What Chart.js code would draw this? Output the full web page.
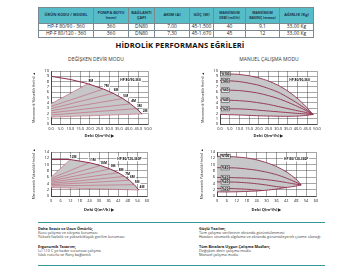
<!DOCTYPE html>
<html><head><meta charset="utf-8">
<script src="https://cdn.jsdelivr.net/npm/chart.js"></script>
<style>
html,body{margin:0;padding:0;background:#fff;}
body{width:360px;height:272px;position:relative;overflow:hidden;font-family:"Open Sans","Noto Sans",sans-serif;color:#222;}
table{position:absolute;left:38px;top:7px;width:275px;border-collapse:collapse;table-layout:fixed;}
th,td{border:0.6px solid #7a8a90;padding:0;text-align:center;overflow:hidden;white-space:nowrap;}
th{background:#56bcc8;color:#1c3550;font-weight:bold;font-size:4px;line-height:4.6px;height:15px;}
th.small{font-size:3.5px;}
td{font-size:4.9px;height:5.8px;line-height:5.6px;color:#222;}
#title{position:absolute;left:0;width:360px;top:40px;text-align:center;font-weight:bold;font-size:7.6px;letter-spacing:0.1px;color:#111;}
.sub{position:absolute;top:55.5px;font-size:5px;color:#333;text-align:center;width:160px;}
canvas{position:absolute;}
.hr{position:absolute;left:38px;width:287px;height:1px;background:#3a9599;}
.txt{position:absolute;font-size:3.8px;line-height:4px;color:#3a3a3a;white-space:nowrap;}
.txt b{color:#222;}
</style></head><body>
<table id="tbl"></table>
<div id="title">HİDROLİK PERFORMANS EĞRİLERİ</div>
<div class="sub" style="left:16px;">DEĞİŞKEN DEVİR MODU</div>
<div class="sub" style="left:189px;">MANUEL ÇALIŞMA MODU</div>
<canvas id="c1" width="129" height="73" style="left:31px;top:66px;width:129px;height:73px;"></canvas>
<canvas id="c2" width="128" height="73" style="left:200px;top:66px;width:128px;height:73px;"></canvas>
<canvas id="c3" width="129" height="66" style="left:31px;top:147px;width:129px;height:66px;"></canvas>
<canvas id="c4" width="128" height="66" style="left:199px;top:147px;width:128px;height:66px;"></canvas>
<div class="hr" style="top:222px;"></div>
<div class="txt" id="tl" style="left:38px;top:227px;"></div>
<div class="txt" id="tr" style="left:199px;top:227px;"></div>
<div class="hr" style="top:265px;"></div>
<script>
// ---------- table data ----------
const tableHeaders = ['ÜRÜN KODU / MODEL','POMPA BOYU<br>(mm)','BAĞLANTI<br>ÇAPI','AKIM (A)','GÜÇ (W)','MAKSİMUM<br>DEBİ (m3/h)','MAKSİMUM<br>BASINÇ (mmss)','AĞIRLIK (Kg)'];
const tableRow1 = ['HP-F 80/90 - 360','360','DN80','7,00','45-1.500','40','9,1','33,00 Kg'];
const tableRow2 = ['HP-F 80/120 - 360','360','DN80','7,30','45-1.670','45','12','33,00 Kg'];
const colWidths = [55,35,26,35,24,32,34,34];

// ---------- chart 1: HP 80/90 değişken devir ----------
const c1XTicks = ['0.0','5.0','10.0','15.0','20.0','25.0','30.0','35.0','40.0','45.0','50.0'];
const c1YTicks = ['0','1','2','3','4','5','6','7','8','9','10'];
const c1MaxX = [0,10,19,27,32,37,41,44,47];
const c1MaxY = [9.0,8.4,7.6,6.6,5.8,4.8,3.8,2.9,1.9];
const c1FanStartY = [3.8,3.3,2.9,2.5,2.1,1.7,1.3];
const c1FanEnd = [2,3,4,5,6,7,8];
const c1FanLabels = ['8M','7M','6M','5M','4M','3M','2M'];

// ---------- chart 2: HP 80/90 manuel ----------
const c2XTicks = c1XTicks;
const c2YTicks = c1YTicks;
const c2X = [0,5,10,15,20,25,30,35,40,44,48];
const c2A = [9.5,9.45,9.35,9.1,8.7,8.1,7.3,6.2,4.8,3.4,1.8];
const c2B = [8.2,8.15,8.0,7.7,7.3,6.7,6.0,5.0,3.9,2.9,1.8];
const c2C = [6.4,6.38,6.3,6.1,5.8,5.35,4.8,4.1,3.3,2.6,1.8];
const c2D = [4.5,4.48,4.4,4.25,4.0,3.7,3.3,2.9,2.5,2.2,1.8];
const c2E = [2.9,2.88,2.85,2.75,2.6,2.45,2.3,2.15,2.0,1.9,1.8];
const c2Bottom = [1.8,1.75,1.7,1.62,1.55,1.5,1.47,1.45,1.5,1.6,1.8];
const c2Labels = ['%100','%80','%60','%40','%20'];

// ---------- chart 3: HP 80/120 değişken devir ----------
const c3XTicks = ['0','6','12','18','24','30','36','42','48','54','60'];
const c3YTicks = ['0','2','4','6','8','10','12','14'];
const c3MaxX = [0,12,24,31,37,42,46,49,52,55];
const c3MaxY = [11.6,11.6,10.6,9.7,8.6,7.4,6.2,5.0,3.6,1.9];
const c3FanStartY = [6.0,5.6,5.2,4.8,4.4,4.0,3.6,3.2,2.7];
const c3FanEnd = [1,2,3,4,5,6,7,8,9];
const c3FanLabels = ['12M','11M','10M','9M','8M','7M','6M','5M','4M'];

// ---------- chart 4: HP 80/120 manuel ----------
const c4XTicks = c3XTicks;
const c4YTicks = c3YTicks;
const c4X = [0,6,12,18,24,30,36,42,46,49,51];
const c4A = [12.6,12.6,12.4,12.1,11.5,10.6,9.4,7.7,6.2,4.8,3.5];
const c4B = [9.0,9.0,8.9,8.6,8.2,7.6,6.8,5.7,4.8,4.1,3.5];
const c4C = [5.9,5.9,5.8,5.7,5.5,5.2,4.8,4.3,3.9,3.7,3.5];
const c4DX = [0,6,12,18,24,30,36,42];
const c4D = [4.5,4.5,4.4,4.2,3.9,3.5,3.0,2.7];
const c4EX = [0,6,12,18,24,28];
const c4E = [2.4,2.4,2.3,2.15,1.9,1.75];
const c4Bottom = [1.3,1.3,1.35,1.45,1.6,1.85,2.2,2.7,3.0,3.3,3.5];
const c4Labels = ['%100','%80','%60','%40','%20'];

const models = ['HP 80/90-360','HP 80/120-360P'];

// ---------- text block ----------
const textLeft = [['b','Daha Sessiz ve Uzun Ömürlü;'],['','Kuru çalışma ve sıkışma koruması'],['','Yüksek fazlalık ve yüksek/düşük gerilim koruması'],['gap',''],['b','Ergonomik Tasarım;'],['','(+) 110 C ye kadar sorunsuz çalışma'],['','Islak rotorlu ve flanş bağlantılı']];
const textRight = [['b','Güçlü Yazılım;'],['','Tüm çalışma verilerinin ekranda görüntülenmesi'],['','Hataları otomatik algılama ve ekranda görüntüleyerek çözme olanağı'],['gap',''],['b','Tüm Binalara Uygun Çalışma Modları;'],['','Değişken devir çalışma modu'],['','Manuel çalışma modu']];

// ---------- build table ----------
(function(){
  const t = document.getElementById('tbl');
  let html = '<colgroup>' + colWidths.map(w=>`<col style="width:${w}px">`).join('') + '</colgroup>';
  html += '<tr>' + tableHeaders.map(h=>`<th${h.indexOf('MAKS')===0?' class="small"':''}>${h}</th>`).join('') + '</tr>';
  [tableRow1, tableRow2].forEach(r => { html += '<tr>' + r.map(c=>`<td>${c}</td>`).join('') + '</tr>'; });
  t.innerHTML = html;
  const fill = (id, arr) => {
    document.getElementById(id).innerHTML = arr.map(([k,s]) => k==='gap' ? '<div style="height:5.5px"></div>' : (k==='b' ? `<div><b>${s}</b></div>` : `<div>${s}</div>`)).join('');
  };
  fill('tl', textLeft); fill('tr', textRight);
})();

// ---------- chart helpers ----------
const FONT = '"Open Sans", "Noto Sans", sans-serif';
const notesPlugin = {
  id: 'notes',
  afterDatasetsDraw(chart, args, opts) {
    const {ctx} = chart; const xs = chart.scales.x, ys = chart.scales.y;
    (opts.items || []).forEach(it => {
      const px = xs.getPixelForValue(it.x) + (it.dx || 0);
      const py = ys.getPixelForValue(it.y) + (it.dy || 0);
      const size = it.size || 3.4;
      ctx.save();
      ctx.font = `bold ${size}px ${FONT}`;
      const w = ctx.measureText(it.text).width;
      const h = size + 1.4;
      if (it.bg) { ctx.fillStyle = it.bg; ctx.fillRect(px - w/2 - 1, py - h/2, w + 2, h); }
      if (it.border) { ctx.strokeStyle = it.border; ctx.lineWidth = 0.5; ctx.strokeRect(px - w/2 - 1, py - h/2, w + 2, h); }
      ctx.fillStyle = it.color || '#111';
      ctx.textAlign = 'center'; ctx.textBaseline = 'middle';
      ctx.fillText(it.text, px, py + 0.2);
      ctx.restore();
    });
  }
};

function baseOptions(xMax, xStep, xTicks, yMax, yStep, yTicks, pad, yW, xH, items) {
  return {
    responsive: false, animation: false, devicePixelRatio: 1,
    layout: { padding: pad },
    plugins: { legend: {display:false}, tooltip: {enabled:false}, notes: {items} },
    elements: { point: {radius:0}, line: {tension:0.25} },
    scales: {
      x: { type:'linear', min:0, max:xMax,
        afterFit: s => { s.height = xH; },
        ticks: { stepSize:xStep, autoSkip:false, maxRotation:0, padding:2.5, color:'#222', font:{size:3.9, family:FONT}, callback:(v,i)=>xTicks[i] },
        grid: { color:'#3a3a3a', lineWidth:0.45, drawTicks:false },
        border: { color:'#222', width:0.7 },
        title: { display:true, text:'Debi Q(m³/h) ▶', color:'#222', font:{size:4, family:FONT, weight:'bold'}, padding:{top:0,bottom:1} } },
      y: { type:'linear', min:0, max:yMax,
        afterFit: s => { s.width = yW; },
        ticks: { stepSize:yStep, autoSkip:false, padding:2, color:'#222', font:{size:4.1, family:FONT}, callback:(v,i)=>yTicks[i] },
        grid: { color:'#3a3a3a', lineWidth:0.45, drawTicks:false },
        border: { color:'#222', width:0.7 },
        title: { display:true, text:'Manometrik Yükseklik Hm(m) ▲', color:'#222', font:{size:3.4, family:FONT}, padding:{top:1,bottom:0} } }
    }
  };
}

const MAROON = '#8e2c48', PINK = '#c45a72', GRAY = '#c7c7c9';
const pts = (xs, ys) => xs.map((x,i)=>({x, y:ys[i]}));

function variableChart(id, maxX, maxY, fanStart, fanEnd, fanLabels, model, modelPos, xMax, xStep, xTicks, yMax, yStep, yTicks, pad, yW, xH, lblOffset) {
  const ds = [];
  ds.push({ data: pts(maxX, maxY), borderColor: MAROON, borderWidth: 1, tension: 0, fill:false });
  fanStart.forEach((s, i) => {
    const e = fanEnd[i];
    ds.push({ data: [{x:0, y:s}, {x:maxX[e], y:maxY[e]}], borderColor: PINK, borderWidth: 0.6, tension: 0, fill:false });
  });
  const bottomIndex = ds.length - 1;
  const upper = [{x:0, y:fanStart[0]}].concat(pts(maxX.slice(fanEnd[0]), maxY.slice(fanEnd[0])));
  ds.push({ data: upper, borderWidth: 0, borderColor:'rgba(0,0,0,0)', tension: 0, fill: {target: bottomIndex}, backgroundColor: GRAY });
  const items = fanLabels.map((t, i) => ({ x: maxX[fanEnd[i]], y: maxY[fanEnd[i]], text: t, dx: lblOffset[0], dy: lblOffset[1], size: 3.2, bg:'#fff' }));
  items.push({ x: modelPos[0], y: modelPos[1], text: model, size: 3.2, bg:'#fff' });
  new Chart(document.getElementById(id), { type:'line', data:{datasets:ds}, options: baseOptions(xMax, xStep, xTicks, yMax, yStep, yTicks, pad, yW, xH, items), plugins:[notesPlugin] });
}

function manualChart(id, curves, bottomX, bottomY, labels, labelX, model, modelPos, xMax, xStep, xTicks, yMax, yStep, yTicks, pad, yW, xH) {
  const ds = [];
  ds.push({ data: pts(bottomX, bottomY), borderColor: MAROON, borderWidth: 0.9, fill:false });
  curves.slice(1).forEach(c => ds.push({ data: pts(c[0], c[1]), borderColor: MAROON, borderWidth: 0.9, fill:false }));
  ds.push({ data: pts(curves[0][0], curves[0][1]), borderColor: MAROON, borderWidth: 0.9, fill: {target: 0}, backgroundColor: GRAY });
  const items = labels.map((t, i) => ({ x: labelX, y: curves[i][1][0], text: t, size: 3.1, bg:'#e6e6e6', border:'#333' }));
  items.push({ x: modelPos[0], y: modelPos[1], text: model, size: 3.2, bg:'#fff' });
  new Chart(document.getElementById(id), { type:'line', data:{datasets:ds}, options: baseOptions(xMax, xStep, xTicks, yMax, yStep, yTicks, pad, yW, xH, items), plugins:[notesPlugin] });
}

variableChart('c1', c1MaxX, c1MaxY, c1FanStartY, c1FanEnd, c1FanLabels, models[0], [41, 8.3],
  50, 5, c1XTicks, 10, 1, c1YTicks, {top:5, right:12, left:0, bottom:0}, 20, 15, [3, -3]);
manualChart('c2', [[c2X,c2A],[c2X,c2B],[c2X,c2C],[c2X,c2D],[c2X,c2E]], c2X, c2Bottom, c2Labels, 2.8, models[0], [41, 8.4],
  50, 5, c2XTicks, 10, 1, c2YTicks, {top:5, right:11, left:0, bottom:0}, 20, 15);
variableChart('c3', c3MaxX, c3MaxY, c3FanStartY, c3FanEnd, c3FanLabels, models[1], [49, 11.8],
  60, 6, c3XTicks, 14, 2, c3YTicks, {top:5, right:13, left:0, bottom:0}, 20, 17, [3, -3]);
manualChart('c4', [[c4X,c4A],[c4X,c4B],[c4X,c4C],[c4DX,c4D],[c4EX,c4E]], c4X, c4Bottom, c4Labels, 5, models[1], [48, 11.7],
  60, 6, c4XTicks, 14, 2, c4YTicks, {top:5, right:11, left:0, bottom:0}, 18, 17);
</script>
</body></html>
